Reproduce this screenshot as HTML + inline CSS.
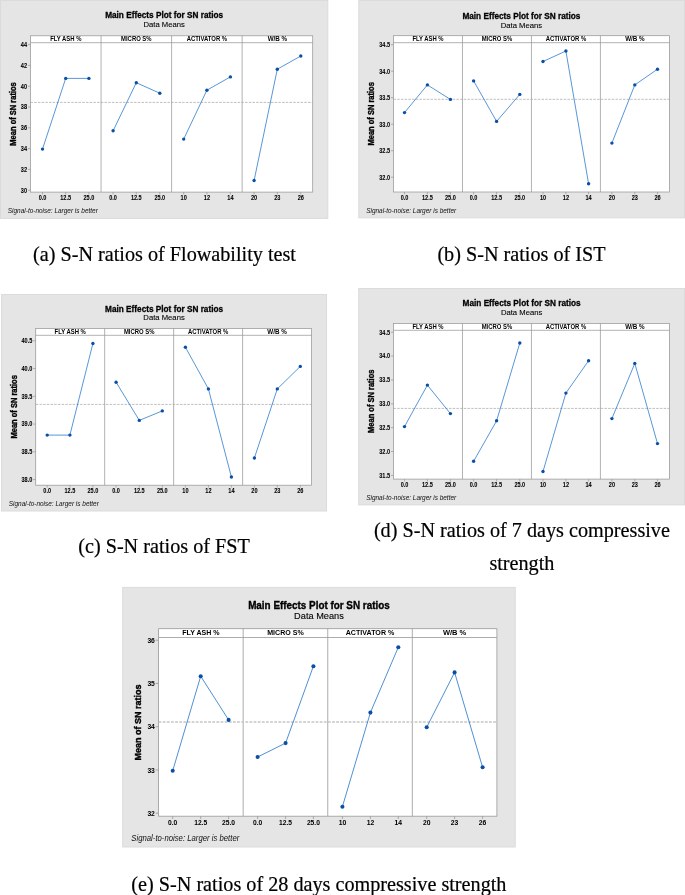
<!DOCTYPE html>
<html lang="en">
<head>
<meta charset="utf-8">
<title>Main Effects Plots for SN ratios</title>
<style>
html,body{margin:0;padding:0;background:#fff;}
body{width:685px;height:895px;overflow:hidden;font-family:'Liberation Sans', sans-serif;}
svg{display:block;}
text{white-space:pre;}
</style>
</head>
<body>
<svg width="685" height="895" viewBox="0 0 685 895">
<rect x="0" y="0" width="685" height="895" fill="#fff"/>
<g class="panel">
<rect x="0.5" y="0.5" width="327.3" height="217.9" fill="#e5e5e5" stroke="#dbdbdb" stroke-width="1"/>
<rect x="30.5" y="35.8" width="282.2" height="156.3" fill="#fff" stroke="#989898" stroke-width="0.75"/>
<line x1="30.5" y1="42.7" x2="312.7" y2="42.7" stroke="#989898" stroke-width="0.75"/>
<line x1="101.05" y1="35.8" x2="101.05" y2="192.1" stroke="#989898" stroke-width="0.75"/>
<line x1="171.6" y1="35.8" x2="171.6" y2="192.1" stroke="#989898" stroke-width="0.75"/>
<line x1="242.15" y1="35.8" x2="242.15" y2="192.1" stroke="#989898" stroke-width="0.75"/>
<text x="164.15" y="18.2" text-anchor="middle" font-family="'Liberation Sans', sans-serif" font-weight="bold" font-size="9.3" textLength="118" lengthAdjust="spacingAndGlyphs" fill="#000" stroke="#000" stroke-width="0.3">Main Effects Plot for SN ratios</text>
<text x="164.15" y="26.95" text-anchor="middle" font-family="'Liberation Sans', sans-serif" font-size="7.9" textLength="41.4" lengthAdjust="spacingAndGlyphs" fill="#000" stroke="#000" stroke-width="0.1">Data Means</text>
<text x="65.78" y="41.1" text-anchor="middle" font-family="'Liberation Sans', sans-serif" font-weight="bold" font-size="6.4" textLength="31.2" lengthAdjust="spacingAndGlyphs" fill="#000">FLY ASH %</text>
<text x="136.32" y="41.1" text-anchor="middle" font-family="'Liberation Sans', sans-serif" font-weight="bold" font-size="6.4" textLength="30.5" lengthAdjust="spacingAndGlyphs" fill="#000">MICRO S%</text>
<text x="206.88" y="41.1" text-anchor="middle" font-family="'Liberation Sans', sans-serif" font-weight="bold" font-size="6.4" textLength="40.5" lengthAdjust="spacingAndGlyphs" fill="#000">ACTIVATOR %</text>
<text x="277.42" y="41.1" text-anchor="middle" font-family="'Liberation Sans', sans-serif" font-weight="bold" font-size="6.4" textLength="19.5" lengthAdjust="spacingAndGlyphs" fill="#000">W/B %</text>
<line x1="28" y1="44.6" x2="30.5" y2="44.6" stroke="#989898" stroke-width="0.75"/>
<text x="27.1" y="46.9" text-anchor="end" font-family="'Liberation Sans', sans-serif" font-weight="bold" font-size="6.6" textLength="6.24" lengthAdjust="spacingAndGlyphs" fill="#000" stroke="#000" stroke-width="0.06">44</text>
<line x1="28" y1="65.4" x2="30.5" y2="65.4" stroke="#989898" stroke-width="0.75"/>
<text x="27.1" y="67.7" text-anchor="end" font-family="'Liberation Sans', sans-serif" font-weight="bold" font-size="6.6" textLength="6.24" lengthAdjust="spacingAndGlyphs" fill="#000" stroke="#000" stroke-width="0.06">42</text>
<line x1="28" y1="86.2" x2="30.5" y2="86.2" stroke="#989898" stroke-width="0.75"/>
<text x="27.1" y="88.5" text-anchor="end" font-family="'Liberation Sans', sans-serif" font-weight="bold" font-size="6.6" textLength="6.24" lengthAdjust="spacingAndGlyphs" fill="#000" stroke="#000" stroke-width="0.06">40</text>
<line x1="28" y1="107" x2="30.5" y2="107" stroke="#989898" stroke-width="0.75"/>
<text x="27.1" y="109.3" text-anchor="end" font-family="'Liberation Sans', sans-serif" font-weight="bold" font-size="6.6" textLength="6.24" lengthAdjust="spacingAndGlyphs" fill="#000" stroke="#000" stroke-width="0.06">38</text>
<line x1="28" y1="127.8" x2="30.5" y2="127.8" stroke="#989898" stroke-width="0.75"/>
<text x="27.1" y="130.1" text-anchor="end" font-family="'Liberation Sans', sans-serif" font-weight="bold" font-size="6.6" textLength="6.24" lengthAdjust="spacingAndGlyphs" fill="#000" stroke="#000" stroke-width="0.06">36</text>
<line x1="28" y1="148.6" x2="30.5" y2="148.6" stroke="#989898" stroke-width="0.75"/>
<text x="27.1" y="150.9" text-anchor="end" font-family="'Liberation Sans', sans-serif" font-weight="bold" font-size="6.6" textLength="6.24" lengthAdjust="spacingAndGlyphs" fill="#000" stroke="#000" stroke-width="0.06">34</text>
<line x1="28" y1="169.4" x2="30.5" y2="169.4" stroke="#989898" stroke-width="0.75"/>
<text x="27.1" y="171.7" text-anchor="end" font-family="'Liberation Sans', sans-serif" font-weight="bold" font-size="6.6" textLength="6.24" lengthAdjust="spacingAndGlyphs" fill="#000" stroke="#000" stroke-width="0.06">32</text>
<line x1="28" y1="190.2" x2="30.5" y2="190.2" stroke="#989898" stroke-width="0.75"/>
<text x="27.1" y="192.5" text-anchor="end" font-family="'Liberation Sans', sans-serif" font-weight="bold" font-size="6.6" textLength="6.24" lengthAdjust="spacingAndGlyphs" fill="#000" stroke="#000" stroke-width="0.06">30</text>
<line x1="30.5" y1="102.4" x2="312.7" y2="102.4" stroke="#a4a4a4" stroke-width="0.7" stroke-dasharray="2.5 1.2"/>
<line x1="42.5" y1="192.1" x2="42.5" y2="194.4" stroke="#989898" stroke-width="0.75"/>
<text x="42.5" y="200" text-anchor="middle" font-family="'Liberation Sans', sans-serif" font-weight="bold" font-size="6.6" textLength="7.69" lengthAdjust="spacingAndGlyphs" fill="#000" stroke="#000" stroke-width="0.06">0.0</text>
<line x1="65.7" y1="192.1" x2="65.7" y2="194.4" stroke="#989898" stroke-width="0.75"/>
<text x="65.7" y="200" text-anchor="middle" font-family="'Liberation Sans', sans-serif" font-weight="bold" font-size="6.6" textLength="10.81" lengthAdjust="spacingAndGlyphs" fill="#000" stroke="#000" stroke-width="0.06">12.5</text>
<line x1="88.9" y1="192.1" x2="88.9" y2="194.4" stroke="#989898" stroke-width="0.75"/>
<text x="88.9" y="200" text-anchor="middle" font-family="'Liberation Sans', sans-serif" font-weight="bold" font-size="6.6" textLength="10.81" lengthAdjust="spacingAndGlyphs" fill="#000" stroke="#000" stroke-width="0.06">25.0</text>
<polyline points="42.5,149.1 65.7,78.4 88.9,78.4" fill="none" stroke="#2273c9" stroke-width="0.75"/>
<circle cx="42.5" cy="149.1" r="1.7" fill="#0a4fa5"/>
<circle cx="65.7" cy="78.4" r="1.7" fill="#0a4fa5"/>
<circle cx="88.9" cy="78.4" r="1.7" fill="#0a4fa5"/>
<line x1="113.1" y1="192.1" x2="113.1" y2="194.4" stroke="#989898" stroke-width="0.75"/>
<text x="113.1" y="200" text-anchor="middle" font-family="'Liberation Sans', sans-serif" font-weight="bold" font-size="6.6" textLength="7.69" lengthAdjust="spacingAndGlyphs" fill="#000" stroke="#000" stroke-width="0.06">0.0</text>
<line x1="136.3" y1="192.1" x2="136.3" y2="194.4" stroke="#989898" stroke-width="0.75"/>
<text x="136.3" y="200" text-anchor="middle" font-family="'Liberation Sans', sans-serif" font-weight="bold" font-size="6.6" textLength="10.81" lengthAdjust="spacingAndGlyphs" fill="#000" stroke="#000" stroke-width="0.06">12.5</text>
<line x1="159.8" y1="192.1" x2="159.8" y2="194.4" stroke="#989898" stroke-width="0.75"/>
<text x="159.8" y="200" text-anchor="middle" font-family="'Liberation Sans', sans-serif" font-weight="bold" font-size="6.6" textLength="10.81" lengthAdjust="spacingAndGlyphs" fill="#000" stroke="#000" stroke-width="0.06">25.0</text>
<polyline points="113.1,130.8 136.3,82.7 159.8,93.2" fill="none" stroke="#2273c9" stroke-width="0.75"/>
<circle cx="113.1" cy="130.8" r="1.7" fill="#0a4fa5"/>
<circle cx="136.3" cy="82.7" r="1.7" fill="#0a4fa5"/>
<circle cx="159.8" cy="93.2" r="1.7" fill="#0a4fa5"/>
<line x1="183.7" y1="192.1" x2="183.7" y2="194.4" stroke="#989898" stroke-width="0.75"/>
<text x="183.7" y="200" text-anchor="middle" font-family="'Liberation Sans', sans-serif" font-weight="bold" font-size="6.6" textLength="6.24" lengthAdjust="spacingAndGlyphs" fill="#000" stroke="#000" stroke-width="0.06">10</text>
<line x1="206.9" y1="192.1" x2="206.9" y2="194.4" stroke="#989898" stroke-width="0.75"/>
<text x="206.9" y="200" text-anchor="middle" font-family="'Liberation Sans', sans-serif" font-weight="bold" font-size="6.6" textLength="6.24" lengthAdjust="spacingAndGlyphs" fill="#000" stroke="#000" stroke-width="0.06">12</text>
<line x1="230.4" y1="192.1" x2="230.4" y2="194.4" stroke="#989898" stroke-width="0.75"/>
<text x="230.4" y="200" text-anchor="middle" font-family="'Liberation Sans', sans-serif" font-weight="bold" font-size="6.6" textLength="6.24" lengthAdjust="spacingAndGlyphs" fill="#000" stroke="#000" stroke-width="0.06">14</text>
<polyline points="183.7,139.1 206.9,90.2 230.4,76.9" fill="none" stroke="#2273c9" stroke-width="0.75"/>
<circle cx="183.7" cy="139.1" r="1.7" fill="#0a4fa5"/>
<circle cx="206.9" cy="90.2" r="1.7" fill="#0a4fa5"/>
<circle cx="230.4" cy="76.9" r="1.7" fill="#0a4fa5"/>
<line x1="254.1" y1="192.1" x2="254.1" y2="194.4" stroke="#989898" stroke-width="0.75"/>
<text x="254.1" y="200" text-anchor="middle" font-family="'Liberation Sans', sans-serif" font-weight="bold" font-size="6.6" textLength="6.24" lengthAdjust="spacingAndGlyphs" fill="#000" stroke="#000" stroke-width="0.06">20</text>
<line x1="277.3" y1="192.1" x2="277.3" y2="194.4" stroke="#989898" stroke-width="0.75"/>
<text x="277.3" y="200" text-anchor="middle" font-family="'Liberation Sans', sans-serif" font-weight="bold" font-size="6.6" textLength="6.24" lengthAdjust="spacingAndGlyphs" fill="#000" stroke="#000" stroke-width="0.06">23</text>
<line x1="300.8" y1="192.1" x2="300.8" y2="194.4" stroke="#989898" stroke-width="0.75"/>
<text x="300.8" y="200" text-anchor="middle" font-family="'Liberation Sans', sans-serif" font-weight="bold" font-size="6.6" textLength="6.24" lengthAdjust="spacingAndGlyphs" fill="#000" stroke="#000" stroke-width="0.06">26</text>
<polyline points="254.1,180.5 277.3,69.2 300.8,56" fill="none" stroke="#2273c9" stroke-width="0.75"/>
<circle cx="254.1" cy="180.5" r="1.7" fill="#0a4fa5"/>
<circle cx="277.3" cy="69.2" r="1.7" fill="#0a4fa5"/>
<circle cx="300.8" cy="56" r="1.7" fill="#0a4fa5"/>
<text transform="translate(16.1,113.95) rotate(-90)" text-anchor="middle" font-family="'Liberation Sans', sans-serif" font-weight="bold" font-size="8.2" textLength="63.4" lengthAdjust="spacingAndGlyphs" fill="#000" stroke="#000" stroke-width="0.35">Mean of SN ratios</text>
<text x="7.8" y="213.3" font-family="'Liberation Sans', sans-serif" font-style="italic" font-size="7" textLength="90" lengthAdjust="spacingAndGlyphs" fill="#111">Signal-to-noise: Larger is better</text>
</g>
<g class="panel">
<rect x="358.8" y="0.5" width="325.7" height="217.3" fill="#e5e5e5" stroke="#dbdbdb" stroke-width="1"/>
<rect x="393.5" y="35.7" width="275.9" height="156.3" fill="#fff" stroke="#989898" stroke-width="0.75"/>
<line x1="393.5" y1="42.7" x2="669.4" y2="42.7" stroke="#989898" stroke-width="0.75"/>
<line x1="462.48" y1="35.7" x2="462.48" y2="192" stroke="#989898" stroke-width="0.75"/>
<line x1="531.45" y1="35.7" x2="531.45" y2="192" stroke="#989898" stroke-width="0.75"/>
<line x1="600.42" y1="35.7" x2="600.42" y2="192" stroke="#989898" stroke-width="0.75"/>
<text x="521.4" y="18.8" text-anchor="middle" font-family="'Liberation Sans', sans-serif" font-weight="bold" font-size="9.3" textLength="118" lengthAdjust="spacingAndGlyphs" fill="#000" stroke="#000" stroke-width="0.3">Main Effects Plot for SN ratios</text>
<text x="521.4" y="27.55" text-anchor="middle" font-family="'Liberation Sans', sans-serif" font-size="7.9" textLength="41.4" lengthAdjust="spacingAndGlyphs" fill="#000" stroke="#000" stroke-width="0.1">Data Means</text>
<text x="427.99" y="41" text-anchor="middle" font-family="'Liberation Sans', sans-serif" font-weight="bold" font-size="6.4" textLength="31.2" lengthAdjust="spacingAndGlyphs" fill="#000">FLY ASH %</text>
<text x="496.96" y="41" text-anchor="middle" font-family="'Liberation Sans', sans-serif" font-weight="bold" font-size="6.4" textLength="30.5" lengthAdjust="spacingAndGlyphs" fill="#000">MICRO S%</text>
<text x="565.94" y="41" text-anchor="middle" font-family="'Liberation Sans', sans-serif" font-weight="bold" font-size="6.4" textLength="40.5" lengthAdjust="spacingAndGlyphs" fill="#000">ACTIVATOR %</text>
<text x="634.91" y="41" text-anchor="middle" font-family="'Liberation Sans', sans-serif" font-weight="bold" font-size="6.4" textLength="19.5" lengthAdjust="spacingAndGlyphs" fill="#000">W/B %</text>
<line x1="391" y1="44.7" x2="393.5" y2="44.7" stroke="#989898" stroke-width="0.75"/>
<text x="390.1" y="47" text-anchor="end" font-family="'Liberation Sans', sans-serif" font-weight="bold" font-size="6.6" textLength="10.81" lengthAdjust="spacingAndGlyphs" fill="#000" stroke="#000" stroke-width="0.06">34.5</text>
<line x1="391" y1="71.2" x2="393.5" y2="71.2" stroke="#989898" stroke-width="0.75"/>
<text x="390.1" y="73.5" text-anchor="end" font-family="'Liberation Sans', sans-serif" font-weight="bold" font-size="6.6" textLength="10.81" lengthAdjust="spacingAndGlyphs" fill="#000" stroke="#000" stroke-width="0.06">34.0</text>
<line x1="391" y1="97.7" x2="393.5" y2="97.7" stroke="#989898" stroke-width="0.75"/>
<text x="390.1" y="100" text-anchor="end" font-family="'Liberation Sans', sans-serif" font-weight="bold" font-size="6.6" textLength="10.81" lengthAdjust="spacingAndGlyphs" fill="#000" stroke="#000" stroke-width="0.06">33.5</text>
<line x1="391" y1="124.2" x2="393.5" y2="124.2" stroke="#989898" stroke-width="0.75"/>
<text x="390.1" y="126.5" text-anchor="end" font-family="'Liberation Sans', sans-serif" font-weight="bold" font-size="6.6" textLength="10.81" lengthAdjust="spacingAndGlyphs" fill="#000" stroke="#000" stroke-width="0.06">33.0</text>
<line x1="391" y1="150.7" x2="393.5" y2="150.7" stroke="#989898" stroke-width="0.75"/>
<text x="390.1" y="153" text-anchor="end" font-family="'Liberation Sans', sans-serif" font-weight="bold" font-size="6.6" textLength="10.81" lengthAdjust="spacingAndGlyphs" fill="#000" stroke="#000" stroke-width="0.06">32.5</text>
<line x1="391" y1="177.2" x2="393.5" y2="177.2" stroke="#989898" stroke-width="0.75"/>
<text x="390.1" y="179.5" text-anchor="end" font-family="'Liberation Sans', sans-serif" font-weight="bold" font-size="6.6" textLength="10.81" lengthAdjust="spacingAndGlyphs" fill="#000" stroke="#000" stroke-width="0.06">32.0</text>
<line x1="393.5" y1="99.3" x2="669.4" y2="99.3" stroke="#a4a4a4" stroke-width="0.7" stroke-dasharray="2.5 1.2"/>
<line x1="404.5" y1="192" x2="404.5" y2="194.3" stroke="#989898" stroke-width="0.75"/>
<text x="404.5" y="199.9" text-anchor="middle" font-family="'Liberation Sans', sans-serif" font-weight="bold" font-size="6.6" textLength="7.69" lengthAdjust="spacingAndGlyphs" fill="#000" stroke="#000" stroke-width="0.06">0.0</text>
<line x1="427.4" y1="192" x2="427.4" y2="194.3" stroke="#989898" stroke-width="0.75"/>
<text x="427.4" y="199.9" text-anchor="middle" font-family="'Liberation Sans', sans-serif" font-weight="bold" font-size="6.6" textLength="10.81" lengthAdjust="spacingAndGlyphs" fill="#000" stroke="#000" stroke-width="0.06">12.5</text>
<line x1="450.4" y1="192" x2="450.4" y2="194.3" stroke="#989898" stroke-width="0.75"/>
<text x="450.4" y="199.9" text-anchor="middle" font-family="'Liberation Sans', sans-serif" font-weight="bold" font-size="6.6" textLength="10.81" lengthAdjust="spacingAndGlyphs" fill="#000" stroke="#000" stroke-width="0.06">25.0</text>
<polyline points="404.5,112.6 427.4,84.9 450.4,99.4" fill="none" stroke="#2273c9" stroke-width="0.75"/>
<circle cx="404.5" cy="112.6" r="1.7" fill="#0a4fa5"/>
<circle cx="427.4" cy="84.9" r="1.7" fill="#0a4fa5"/>
<circle cx="450.4" cy="99.4" r="1.7" fill="#0a4fa5"/>
<line x1="473.6" y1="192" x2="473.6" y2="194.3" stroke="#989898" stroke-width="0.75"/>
<text x="473.6" y="199.9" text-anchor="middle" font-family="'Liberation Sans', sans-serif" font-weight="bold" font-size="6.6" textLength="7.69" lengthAdjust="spacingAndGlyphs" fill="#000" stroke="#000" stroke-width="0.06">0.0</text>
<line x1="496.6" y1="192" x2="496.6" y2="194.3" stroke="#989898" stroke-width="0.75"/>
<text x="496.6" y="199.9" text-anchor="middle" font-family="'Liberation Sans', sans-serif" font-weight="bold" font-size="6.6" textLength="10.81" lengthAdjust="spacingAndGlyphs" fill="#000" stroke="#000" stroke-width="0.06">12.5</text>
<line x1="519.8" y1="192" x2="519.8" y2="194.3" stroke="#989898" stroke-width="0.75"/>
<text x="519.8" y="199.9" text-anchor="middle" font-family="'Liberation Sans', sans-serif" font-weight="bold" font-size="6.6" textLength="10.81" lengthAdjust="spacingAndGlyphs" fill="#000" stroke="#000" stroke-width="0.06">25.0</text>
<polyline points="473.6,80.9 496.6,121.4 519.8,94.4" fill="none" stroke="#2273c9" stroke-width="0.75"/>
<circle cx="473.6" cy="80.9" r="1.7" fill="#0a4fa5"/>
<circle cx="496.6" cy="121.4" r="1.7" fill="#0a4fa5"/>
<circle cx="519.8" cy="94.4" r="1.7" fill="#0a4fa5"/>
<line x1="543" y1="192" x2="543" y2="194.3" stroke="#989898" stroke-width="0.75"/>
<text x="543" y="199.9" text-anchor="middle" font-family="'Liberation Sans', sans-serif" font-weight="bold" font-size="6.6" textLength="6.24" lengthAdjust="spacingAndGlyphs" fill="#000" stroke="#000" stroke-width="0.06">10</text>
<line x1="565.9" y1="192" x2="565.9" y2="194.3" stroke="#989898" stroke-width="0.75"/>
<text x="565.9" y="199.9" text-anchor="middle" font-family="'Liberation Sans', sans-serif" font-weight="bold" font-size="6.6" textLength="6.24" lengthAdjust="spacingAndGlyphs" fill="#000" stroke="#000" stroke-width="0.06">12</text>
<line x1="588.6" y1="192" x2="588.6" y2="194.3" stroke="#989898" stroke-width="0.75"/>
<text x="588.6" y="199.9" text-anchor="middle" font-family="'Liberation Sans', sans-serif" font-weight="bold" font-size="6.6" textLength="6.24" lengthAdjust="spacingAndGlyphs" fill="#000" stroke="#000" stroke-width="0.06">14</text>
<polyline points="543,61.5 565.9,51 588.6,183.8" fill="none" stroke="#2273c9" stroke-width="0.75"/>
<circle cx="543" cy="61.5" r="1.7" fill="#0a4fa5"/>
<circle cx="565.9" cy="51" r="1.7" fill="#0a4fa5"/>
<circle cx="588.6" cy="183.8" r="1.7" fill="#0a4fa5"/>
<line x1="611.9" y1="192" x2="611.9" y2="194.3" stroke="#989898" stroke-width="0.75"/>
<text x="611.9" y="199.9" text-anchor="middle" font-family="'Liberation Sans', sans-serif" font-weight="bold" font-size="6.6" textLength="6.24" lengthAdjust="spacingAndGlyphs" fill="#000" stroke="#000" stroke-width="0.06">20</text>
<line x1="634.8" y1="192" x2="634.8" y2="194.3" stroke="#989898" stroke-width="0.75"/>
<text x="634.8" y="199.9" text-anchor="middle" font-family="'Liberation Sans', sans-serif" font-weight="bold" font-size="6.6" textLength="6.24" lengthAdjust="spacingAndGlyphs" fill="#000" stroke="#000" stroke-width="0.06">23</text>
<line x1="657.5" y1="192" x2="657.5" y2="194.3" stroke="#989898" stroke-width="0.75"/>
<text x="657.5" y="199.9" text-anchor="middle" font-family="'Liberation Sans', sans-serif" font-weight="bold" font-size="6.6" textLength="6.24" lengthAdjust="spacingAndGlyphs" fill="#000" stroke="#000" stroke-width="0.06">26</text>
<polyline points="611.9,143.1 634.8,84.9 657.5,69.2" fill="none" stroke="#2273c9" stroke-width="0.75"/>
<circle cx="611.9" cy="143.1" r="1.7" fill="#0a4fa5"/>
<circle cx="634.8" cy="84.9" r="1.7" fill="#0a4fa5"/>
<circle cx="657.5" cy="69.2" r="1.7" fill="#0a4fa5"/>
<text transform="translate(374.4,113.85) rotate(-90)" text-anchor="middle" font-family="'Liberation Sans', sans-serif" font-weight="bold" font-size="8.2" textLength="63.4" lengthAdjust="spacingAndGlyphs" fill="#000" stroke="#000" stroke-width="0.35">Mean of SN ratios</text>
<text x="366.2" y="213.2" font-family="'Liberation Sans', sans-serif" font-style="italic" font-size="7" textLength="90" lengthAdjust="spacingAndGlyphs" fill="#111">Signal-to-noise: Larger is better</text>
</g>
<g class="panel">
<rect x="1.6" y="294.5" width="324.9" height="216.5" fill="#e5e5e5" stroke="#dbdbdb" stroke-width="1"/>
<rect x="35.7" y="328.5" width="275.9" height="156.7" fill="#fff" stroke="#989898" stroke-width="0.75"/>
<line x1="35.7" y1="335.3" x2="311.6" y2="335.3" stroke="#989898" stroke-width="0.75"/>
<line x1="104.68" y1="328.5" x2="104.68" y2="485.2" stroke="#989898" stroke-width="0.75"/>
<line x1="173.65" y1="328.5" x2="173.65" y2="485.2" stroke="#989898" stroke-width="0.75"/>
<line x1="242.62" y1="328.5" x2="242.62" y2="485.2" stroke="#989898" stroke-width="0.75"/>
<text x="164.05" y="311.7" text-anchor="middle" font-family="'Liberation Sans', sans-serif" font-weight="bold" font-size="9.3" textLength="118" lengthAdjust="spacingAndGlyphs" fill="#000" stroke="#000" stroke-width="0.3">Main Effects Plot for SN ratios</text>
<text x="164.05" y="320.45" text-anchor="middle" font-family="'Liberation Sans', sans-serif" font-size="7.9" textLength="41.4" lengthAdjust="spacingAndGlyphs" fill="#000" stroke="#000" stroke-width="0.1">Data Means</text>
<text x="70.19" y="333.8" text-anchor="middle" font-family="'Liberation Sans', sans-serif" font-weight="bold" font-size="6.4" textLength="31.2" lengthAdjust="spacingAndGlyphs" fill="#000">FLY ASH %</text>
<text x="139.16" y="333.8" text-anchor="middle" font-family="'Liberation Sans', sans-serif" font-weight="bold" font-size="6.4" textLength="30.5" lengthAdjust="spacingAndGlyphs" fill="#000">MICRO S%</text>
<text x="208.14" y="333.8" text-anchor="middle" font-family="'Liberation Sans', sans-serif" font-weight="bold" font-size="6.4" textLength="40.5" lengthAdjust="spacingAndGlyphs" fill="#000">ACTIVATOR %</text>
<text x="277.11" y="333.8" text-anchor="middle" font-family="'Liberation Sans', sans-serif" font-weight="bold" font-size="6.4" textLength="19.5" lengthAdjust="spacingAndGlyphs" fill="#000">W/B %</text>
<line x1="33.2" y1="340.8" x2="35.7" y2="340.8" stroke="#989898" stroke-width="0.75"/>
<text x="32.3" y="343.1" text-anchor="end" font-family="'Liberation Sans', sans-serif" font-weight="bold" font-size="6.6" textLength="10.81" lengthAdjust="spacingAndGlyphs" fill="#000" stroke="#000" stroke-width="0.06">40.5</text>
<line x1="33.2" y1="368.56" x2="35.7" y2="368.56" stroke="#989898" stroke-width="0.75"/>
<text x="32.3" y="370.86" text-anchor="end" font-family="'Liberation Sans', sans-serif" font-weight="bold" font-size="6.6" textLength="10.81" lengthAdjust="spacingAndGlyphs" fill="#000" stroke="#000" stroke-width="0.06">40.0</text>
<line x1="33.2" y1="396.32" x2="35.7" y2="396.32" stroke="#989898" stroke-width="0.75"/>
<text x="32.3" y="398.62" text-anchor="end" font-family="'Liberation Sans', sans-serif" font-weight="bold" font-size="6.6" textLength="10.81" lengthAdjust="spacingAndGlyphs" fill="#000" stroke="#000" stroke-width="0.06">39.5</text>
<line x1="33.2" y1="424.08" x2="35.7" y2="424.08" stroke="#989898" stroke-width="0.75"/>
<text x="32.3" y="426.38" text-anchor="end" font-family="'Liberation Sans', sans-serif" font-weight="bold" font-size="6.6" textLength="10.81" lengthAdjust="spacingAndGlyphs" fill="#000" stroke="#000" stroke-width="0.06">39.0</text>
<line x1="33.2" y1="451.84" x2="35.7" y2="451.84" stroke="#989898" stroke-width="0.75"/>
<text x="32.3" y="454.14" text-anchor="end" font-family="'Liberation Sans', sans-serif" font-weight="bold" font-size="6.6" textLength="10.81" lengthAdjust="spacingAndGlyphs" fill="#000" stroke="#000" stroke-width="0.06">38.5</text>
<line x1="33.2" y1="479.6" x2="35.7" y2="479.6" stroke="#989898" stroke-width="0.75"/>
<text x="32.3" y="481.9" text-anchor="end" font-family="'Liberation Sans', sans-serif" font-weight="bold" font-size="6.6" textLength="10.81" lengthAdjust="spacingAndGlyphs" fill="#000" stroke="#000" stroke-width="0.06">38.0</text>
<line x1="35.7" y1="404.4" x2="311.6" y2="404.4" stroke="#a4a4a4" stroke-width="0.7" stroke-dasharray="2.5 1.2"/>
<line x1="47.2" y1="485.2" x2="47.2" y2="487.5" stroke="#989898" stroke-width="0.75"/>
<text x="47.2" y="493.1" text-anchor="middle" font-family="'Liberation Sans', sans-serif" font-weight="bold" font-size="6.6" textLength="7.69" lengthAdjust="spacingAndGlyphs" fill="#000" stroke="#000" stroke-width="0.06">0.0</text>
<line x1="69.9" y1="485.2" x2="69.9" y2="487.5" stroke="#989898" stroke-width="0.75"/>
<text x="69.9" y="493.1" text-anchor="middle" font-family="'Liberation Sans', sans-serif" font-weight="bold" font-size="6.6" textLength="10.81" lengthAdjust="spacingAndGlyphs" fill="#000" stroke="#000" stroke-width="0.06">12.5</text>
<line x1="92.9" y1="485.2" x2="92.9" y2="487.5" stroke="#989898" stroke-width="0.75"/>
<text x="92.9" y="493.1" text-anchor="middle" font-family="'Liberation Sans', sans-serif" font-weight="bold" font-size="6.6" textLength="10.81" lengthAdjust="spacingAndGlyphs" fill="#000" stroke="#000" stroke-width="0.06">25.0</text>
<polyline points="47.2,435.1 69.9,435.1 92.9,343.5" fill="none" stroke="#2273c9" stroke-width="0.75"/>
<circle cx="47.2" cy="435.1" r="1.7" fill="#0a4fa5"/>
<circle cx="69.9" cy="435.1" r="1.7" fill="#0a4fa5"/>
<circle cx="92.9" cy="343.5" r="1.7" fill="#0a4fa5"/>
<line x1="116.1" y1="485.2" x2="116.1" y2="487.5" stroke="#989898" stroke-width="0.75"/>
<text x="116.1" y="493.1" text-anchor="middle" font-family="'Liberation Sans', sans-serif" font-weight="bold" font-size="6.6" textLength="7.69" lengthAdjust="spacingAndGlyphs" fill="#000" stroke="#000" stroke-width="0.06">0.0</text>
<line x1="139.3" y1="485.2" x2="139.3" y2="487.5" stroke="#989898" stroke-width="0.75"/>
<text x="139.3" y="493.1" text-anchor="middle" font-family="'Liberation Sans', sans-serif" font-weight="bold" font-size="6.6" textLength="10.81" lengthAdjust="spacingAndGlyphs" fill="#000" stroke="#000" stroke-width="0.06">12.5</text>
<line x1="162.3" y1="485.2" x2="162.3" y2="487.5" stroke="#989898" stroke-width="0.75"/>
<text x="162.3" y="493.1" text-anchor="middle" font-family="'Liberation Sans', sans-serif" font-weight="bold" font-size="6.6" textLength="10.81" lengthAdjust="spacingAndGlyphs" fill="#000" stroke="#000" stroke-width="0.06">25.0</text>
<polyline points="116.1,382.2 139.3,420.4 162.3,410.9" fill="none" stroke="#2273c9" stroke-width="0.75"/>
<circle cx="116.1" cy="382.2" r="1.7" fill="#0a4fa5"/>
<circle cx="139.3" cy="420.4" r="1.7" fill="#0a4fa5"/>
<circle cx="162.3" cy="410.9" r="1.7" fill="#0a4fa5"/>
<line x1="185.4" y1="485.2" x2="185.4" y2="487.5" stroke="#989898" stroke-width="0.75"/>
<text x="185.4" y="493.1" text-anchor="middle" font-family="'Liberation Sans', sans-serif" font-weight="bold" font-size="6.6" textLength="6.24" lengthAdjust="spacingAndGlyphs" fill="#000" stroke="#000" stroke-width="0.06">10</text>
<line x1="208.4" y1="485.2" x2="208.4" y2="487.5" stroke="#989898" stroke-width="0.75"/>
<text x="208.4" y="493.1" text-anchor="middle" font-family="'Liberation Sans', sans-serif" font-weight="bold" font-size="6.6" textLength="6.24" lengthAdjust="spacingAndGlyphs" fill="#000" stroke="#000" stroke-width="0.06">12</text>
<line x1="231.4" y1="485.2" x2="231.4" y2="487.5" stroke="#989898" stroke-width="0.75"/>
<text x="231.4" y="493.1" text-anchor="middle" font-family="'Liberation Sans', sans-serif" font-weight="bold" font-size="6.6" textLength="6.24" lengthAdjust="spacingAndGlyphs" fill="#000" stroke="#000" stroke-width="0.06">14</text>
<polyline points="185.4,347.2 208.4,388.9 231.4,477" fill="none" stroke="#2273c9" stroke-width="0.75"/>
<circle cx="185.4" cy="347.2" r="1.7" fill="#0a4fa5"/>
<circle cx="208.4" cy="388.9" r="1.7" fill="#0a4fa5"/>
<circle cx="231.4" cy="477" r="1.7" fill="#0a4fa5"/>
<line x1="254.4" y1="485.2" x2="254.4" y2="487.5" stroke="#989898" stroke-width="0.75"/>
<text x="254.4" y="493.1" text-anchor="middle" font-family="'Liberation Sans', sans-serif" font-weight="bold" font-size="6.6" textLength="6.24" lengthAdjust="spacingAndGlyphs" fill="#000" stroke="#000" stroke-width="0.06">20</text>
<line x1="277.3" y1="485.2" x2="277.3" y2="487.5" stroke="#989898" stroke-width="0.75"/>
<text x="277.3" y="493.1" text-anchor="middle" font-family="'Liberation Sans', sans-serif" font-weight="bold" font-size="6.6" textLength="6.24" lengthAdjust="spacingAndGlyphs" fill="#000" stroke="#000" stroke-width="0.06">23</text>
<line x1="300.3" y1="485.2" x2="300.3" y2="487.5" stroke="#989898" stroke-width="0.75"/>
<text x="300.3" y="493.1" text-anchor="middle" font-family="'Liberation Sans', sans-serif" font-weight="bold" font-size="6.6" textLength="6.24" lengthAdjust="spacingAndGlyphs" fill="#000" stroke="#000" stroke-width="0.06">26</text>
<polyline points="254.4,458 277.3,388.9 300.3,366.4" fill="none" stroke="#2273c9" stroke-width="0.75"/>
<circle cx="254.4" cy="458" r="1.7" fill="#0a4fa5"/>
<circle cx="277.3" cy="388.9" r="1.7" fill="#0a4fa5"/>
<circle cx="300.3" cy="366.4" r="1.7" fill="#0a4fa5"/>
<text transform="translate(17.4,406.85) rotate(-90)" text-anchor="middle" font-family="'Liberation Sans', sans-serif" font-weight="bold" font-size="8.2" textLength="63.4" lengthAdjust="spacingAndGlyphs" fill="#000" stroke="#000" stroke-width="0.35">Mean of SN ratios</text>
<text x="8.8" y="506.4" font-family="'Liberation Sans', sans-serif" font-style="italic" font-size="7" textLength="90" lengthAdjust="spacingAndGlyphs" fill="#111">Signal-to-noise: Larger is better</text>
</g>
<g class="panel">
<rect x="358.7" y="288.5" width="325.8" height="216.4" fill="#e5e5e5" stroke="#dbdbdb" stroke-width="1"/>
<rect x="393.5" y="323.4" width="275.9" height="155.7" fill="#fff" stroke="#989898" stroke-width="0.75"/>
<line x1="393.5" y1="330.3" x2="669.4" y2="330.3" stroke="#989898" stroke-width="0.75"/>
<line x1="462.48" y1="323.4" x2="462.48" y2="479.1" stroke="#989898" stroke-width="0.75"/>
<line x1="531.45" y1="323.4" x2="531.45" y2="479.1" stroke="#989898" stroke-width="0.75"/>
<line x1="600.42" y1="323.4" x2="600.42" y2="479.1" stroke="#989898" stroke-width="0.75"/>
<text x="521.6" y="305.9" text-anchor="middle" font-family="'Liberation Sans', sans-serif" font-weight="bold" font-size="9.3" textLength="118" lengthAdjust="spacingAndGlyphs" fill="#000" stroke="#000" stroke-width="0.3">Main Effects Plot for SN ratios</text>
<text x="521.6" y="314.65" text-anchor="middle" font-family="'Liberation Sans', sans-serif" font-size="7.9" textLength="41.4" lengthAdjust="spacingAndGlyphs" fill="#000" stroke="#000" stroke-width="0.1">Data Means</text>
<text x="427.99" y="328.7" text-anchor="middle" font-family="'Liberation Sans', sans-serif" font-weight="bold" font-size="6.4" textLength="31.2" lengthAdjust="spacingAndGlyphs" fill="#000">FLY ASH %</text>
<text x="496.96" y="328.7" text-anchor="middle" font-family="'Liberation Sans', sans-serif" font-weight="bold" font-size="6.4" textLength="30.5" lengthAdjust="spacingAndGlyphs" fill="#000">MICRO S%</text>
<text x="565.94" y="328.7" text-anchor="middle" font-family="'Liberation Sans', sans-serif" font-weight="bold" font-size="6.4" textLength="40.5" lengthAdjust="spacingAndGlyphs" fill="#000">ACTIVATOR %</text>
<text x="634.91" y="328.7" text-anchor="middle" font-family="'Liberation Sans', sans-serif" font-weight="bold" font-size="6.4" textLength="19.5" lengthAdjust="spacingAndGlyphs" fill="#000">W/B %</text>
<line x1="391" y1="332.2" x2="393.5" y2="332.2" stroke="#989898" stroke-width="0.75"/>
<text x="390.1" y="334.5" text-anchor="end" font-family="'Liberation Sans', sans-serif" font-weight="bold" font-size="6.6" textLength="10.81" lengthAdjust="spacingAndGlyphs" fill="#000" stroke="#000" stroke-width="0.06">34.5</text>
<line x1="391" y1="356.07" x2="393.5" y2="356.07" stroke="#989898" stroke-width="0.75"/>
<text x="390.1" y="358.37" text-anchor="end" font-family="'Liberation Sans', sans-serif" font-weight="bold" font-size="6.6" textLength="10.81" lengthAdjust="spacingAndGlyphs" fill="#000" stroke="#000" stroke-width="0.06">34.0</text>
<line x1="391" y1="379.93" x2="393.5" y2="379.93" stroke="#989898" stroke-width="0.75"/>
<text x="390.1" y="382.23" text-anchor="end" font-family="'Liberation Sans', sans-serif" font-weight="bold" font-size="6.6" textLength="10.81" lengthAdjust="spacingAndGlyphs" fill="#000" stroke="#000" stroke-width="0.06">33.5</text>
<line x1="391" y1="403.8" x2="393.5" y2="403.8" stroke="#989898" stroke-width="0.75"/>
<text x="390.1" y="406.1" text-anchor="end" font-family="'Liberation Sans', sans-serif" font-weight="bold" font-size="6.6" textLength="10.81" lengthAdjust="spacingAndGlyphs" fill="#000" stroke="#000" stroke-width="0.06">33.0</text>
<line x1="391" y1="427.67" x2="393.5" y2="427.67" stroke="#989898" stroke-width="0.75"/>
<text x="390.1" y="429.97" text-anchor="end" font-family="'Liberation Sans', sans-serif" font-weight="bold" font-size="6.6" textLength="10.81" lengthAdjust="spacingAndGlyphs" fill="#000" stroke="#000" stroke-width="0.06">32.5</text>
<line x1="391" y1="451.53" x2="393.5" y2="451.53" stroke="#989898" stroke-width="0.75"/>
<text x="390.1" y="453.83" text-anchor="end" font-family="'Liberation Sans', sans-serif" font-weight="bold" font-size="6.6" textLength="10.81" lengthAdjust="spacingAndGlyphs" fill="#000" stroke="#000" stroke-width="0.06">32.0</text>
<line x1="391" y1="475.4" x2="393.5" y2="475.4" stroke="#989898" stroke-width="0.75"/>
<text x="390.1" y="477.7" text-anchor="end" font-family="'Liberation Sans', sans-serif" font-weight="bold" font-size="6.6" textLength="10.81" lengthAdjust="spacingAndGlyphs" fill="#000" stroke="#000" stroke-width="0.06">31.5</text>
<line x1="393.5" y1="408.4" x2="669.4" y2="408.4" stroke="#a4a4a4" stroke-width="0.7" stroke-dasharray="2.5 1.2"/>
<line x1="404.5" y1="479.1" x2="404.5" y2="481.4" stroke="#989898" stroke-width="0.75"/>
<text x="404.5" y="487" text-anchor="middle" font-family="'Liberation Sans', sans-serif" font-weight="bold" font-size="6.6" textLength="7.69" lengthAdjust="spacingAndGlyphs" fill="#000" stroke="#000" stroke-width="0.06">0.0</text>
<line x1="427.4" y1="479.1" x2="427.4" y2="481.4" stroke="#989898" stroke-width="0.75"/>
<text x="427.4" y="487" text-anchor="middle" font-family="'Liberation Sans', sans-serif" font-weight="bold" font-size="6.6" textLength="10.81" lengthAdjust="spacingAndGlyphs" fill="#000" stroke="#000" stroke-width="0.06">12.5</text>
<line x1="450.4" y1="479.1" x2="450.4" y2="481.4" stroke="#989898" stroke-width="0.75"/>
<text x="450.4" y="487" text-anchor="middle" font-family="'Liberation Sans', sans-serif" font-weight="bold" font-size="6.6" textLength="10.81" lengthAdjust="spacingAndGlyphs" fill="#000" stroke="#000" stroke-width="0.06">25.0</text>
<polyline points="404.5,426.6 427.4,385.1 450.4,413.6" fill="none" stroke="#2273c9" stroke-width="0.75"/>
<circle cx="404.5" cy="426.6" r="1.7" fill="#0a4fa5"/>
<circle cx="427.4" cy="385.1" r="1.7" fill="#0a4fa5"/>
<circle cx="450.4" cy="413.6" r="1.7" fill="#0a4fa5"/>
<line x1="473.6" y1="479.1" x2="473.6" y2="481.4" stroke="#989898" stroke-width="0.75"/>
<text x="473.6" y="487" text-anchor="middle" font-family="'Liberation Sans', sans-serif" font-weight="bold" font-size="6.6" textLength="7.69" lengthAdjust="spacingAndGlyphs" fill="#000" stroke="#000" stroke-width="0.06">0.0</text>
<line x1="496.6" y1="479.1" x2="496.6" y2="481.4" stroke="#989898" stroke-width="0.75"/>
<text x="496.6" y="487" text-anchor="middle" font-family="'Liberation Sans', sans-serif" font-weight="bold" font-size="6.6" textLength="10.81" lengthAdjust="spacingAndGlyphs" fill="#000" stroke="#000" stroke-width="0.06">12.5</text>
<line x1="519.8" y1="479.1" x2="519.8" y2="481.4" stroke="#989898" stroke-width="0.75"/>
<text x="519.8" y="487" text-anchor="middle" font-family="'Liberation Sans', sans-serif" font-weight="bold" font-size="6.6" textLength="10.81" lengthAdjust="spacingAndGlyphs" fill="#000" stroke="#000" stroke-width="0.06">25.0</text>
<polyline points="473.6,461.3 496.6,420.8 519.8,343" fill="none" stroke="#2273c9" stroke-width="0.75"/>
<circle cx="473.6" cy="461.3" r="1.7" fill="#0a4fa5"/>
<circle cx="496.6" cy="420.8" r="1.7" fill="#0a4fa5"/>
<circle cx="519.8" cy="343" r="1.7" fill="#0a4fa5"/>
<line x1="543" y1="479.1" x2="543" y2="481.4" stroke="#989898" stroke-width="0.75"/>
<text x="543" y="487" text-anchor="middle" font-family="'Liberation Sans', sans-serif" font-weight="bold" font-size="6.6" textLength="6.24" lengthAdjust="spacingAndGlyphs" fill="#000" stroke="#000" stroke-width="0.06">10</text>
<line x1="565.9" y1="479.1" x2="565.9" y2="481.4" stroke="#989898" stroke-width="0.75"/>
<text x="565.9" y="487" text-anchor="middle" font-family="'Liberation Sans', sans-serif" font-weight="bold" font-size="6.6" textLength="6.24" lengthAdjust="spacingAndGlyphs" fill="#000" stroke="#000" stroke-width="0.06">12</text>
<line x1="588.6" y1="479.1" x2="588.6" y2="481.4" stroke="#989898" stroke-width="0.75"/>
<text x="588.6" y="487" text-anchor="middle" font-family="'Liberation Sans', sans-serif" font-weight="bold" font-size="6.6" textLength="6.24" lengthAdjust="spacingAndGlyphs" fill="#000" stroke="#000" stroke-width="0.06">14</text>
<polyline points="543,471.5 565.9,393.1 588.6,360.7" fill="none" stroke="#2273c9" stroke-width="0.75"/>
<circle cx="543" cy="471.5" r="1.7" fill="#0a4fa5"/>
<circle cx="565.9" cy="393.1" r="1.7" fill="#0a4fa5"/>
<circle cx="588.6" cy="360.7" r="1.7" fill="#0a4fa5"/>
<line x1="611.9" y1="479.1" x2="611.9" y2="481.4" stroke="#989898" stroke-width="0.75"/>
<text x="611.9" y="487" text-anchor="middle" font-family="'Liberation Sans', sans-serif" font-weight="bold" font-size="6.6" textLength="6.24" lengthAdjust="spacingAndGlyphs" fill="#000" stroke="#000" stroke-width="0.06">20</text>
<line x1="634.8" y1="479.1" x2="634.8" y2="481.4" stroke="#989898" stroke-width="0.75"/>
<text x="634.8" y="487" text-anchor="middle" font-family="'Liberation Sans', sans-serif" font-weight="bold" font-size="6.6" textLength="6.24" lengthAdjust="spacingAndGlyphs" fill="#000" stroke="#000" stroke-width="0.06">23</text>
<line x1="657.5" y1="479.1" x2="657.5" y2="481.4" stroke="#989898" stroke-width="0.75"/>
<text x="657.5" y="487" text-anchor="middle" font-family="'Liberation Sans', sans-serif" font-weight="bold" font-size="6.6" textLength="6.24" lengthAdjust="spacingAndGlyphs" fill="#000" stroke="#000" stroke-width="0.06">26</text>
<polyline points="611.9,418.6 634.8,363.4 657.5,443.6" fill="none" stroke="#2273c9" stroke-width="0.75"/>
<circle cx="611.9" cy="418.6" r="1.7" fill="#0a4fa5"/>
<circle cx="634.8" cy="363.4" r="1.7" fill="#0a4fa5"/>
<circle cx="657.5" cy="443.6" r="1.7" fill="#0a4fa5"/>
<text transform="translate(373.7,401.25) rotate(-90)" text-anchor="middle" font-family="'Liberation Sans', sans-serif" font-weight="bold" font-size="8.2" textLength="63.4" lengthAdjust="spacingAndGlyphs" fill="#000" stroke="#000" stroke-width="0.35">Mean of SN ratios</text>
<text x="366.2" y="500.3" font-family="'Liberation Sans', sans-serif" font-style="italic" font-size="7" textLength="90" lengthAdjust="spacingAndGlyphs" fill="#111">Signal-to-noise: Larger is better</text>
</g>
<g class="panel">
<rect x="122.7" y="587.4" width="392.5" height="259.6" fill="#e5e5e5" stroke="#dbdbdb" stroke-width="1"/>
<rect x="158.6" y="628.7" width="338.3" height="187.5" fill="#fff" stroke="#989898" stroke-width="0.8"/>
<line x1="158.6" y1="637.5" x2="496.9" y2="637.5" stroke="#989898" stroke-width="0.8"/>
<line x1="243.17" y1="628.7" x2="243.17" y2="816.2" stroke="#989898" stroke-width="0.8"/>
<line x1="327.75" y1="628.7" x2="327.75" y2="816.2" stroke="#989898" stroke-width="0.8"/>
<line x1="412.32" y1="628.7" x2="412.32" y2="816.2" stroke="#989898" stroke-width="0.8"/>
<text x="318.95" y="608.6" text-anchor="middle" font-family="'Liberation Sans', sans-serif" font-weight="bold" font-size="11.16" textLength="141.6" lengthAdjust="spacingAndGlyphs" fill="#000" stroke="#000" stroke-width="0.36">Main Effects Plot for SN ratios</text>
<text x="318.95" y="619.1" text-anchor="middle" font-family="'Liberation Sans', sans-serif" font-size="9.48" textLength="49.68" lengthAdjust="spacingAndGlyphs" fill="#000" stroke="#000" stroke-width="0.12">Data Means</text>
<text x="200.89" y="635.06" text-anchor="middle" font-family="'Liberation Sans', sans-serif" font-weight="bold" font-size="7.68" textLength="37.44" lengthAdjust="spacingAndGlyphs" fill="#000">FLY ASH %</text>
<text x="285.46" y="635.06" text-anchor="middle" font-family="'Liberation Sans', sans-serif" font-weight="bold" font-size="7.68" textLength="36.6" lengthAdjust="spacingAndGlyphs" fill="#000">MICRO S%</text>
<text x="370.04" y="635.06" text-anchor="middle" font-family="'Liberation Sans', sans-serif" font-weight="bold" font-size="7.68" textLength="48.6" lengthAdjust="spacingAndGlyphs" fill="#000">ACTIVATOR %</text>
<text x="454.61" y="635.06" text-anchor="middle" font-family="'Liberation Sans', sans-serif" font-weight="bold" font-size="7.68" textLength="23.4" lengthAdjust="spacingAndGlyphs" fill="#000">W/B %</text>
<line x1="155.6" y1="640.2" x2="158.6" y2="640.2" stroke="#989898" stroke-width="0.8"/>
<text x="154.88" y="642.96" text-anchor="end" font-family="'Liberation Sans', sans-serif" font-weight="bold" font-size="7.92" textLength="7.49" lengthAdjust="spacingAndGlyphs" fill="#000" stroke="#000" stroke-width="0.02">36</text>
<line x1="155.6" y1="683.45" x2="158.6" y2="683.45" stroke="#989898" stroke-width="0.8"/>
<text x="154.88" y="686.21" text-anchor="end" font-family="'Liberation Sans', sans-serif" font-weight="bold" font-size="7.92" textLength="7.49" lengthAdjust="spacingAndGlyphs" fill="#000" stroke="#000" stroke-width="0.02">35</text>
<line x1="155.6" y1="726.7" x2="158.6" y2="726.7" stroke="#989898" stroke-width="0.8"/>
<text x="154.88" y="729.46" text-anchor="end" font-family="'Liberation Sans', sans-serif" font-weight="bold" font-size="7.92" textLength="7.49" lengthAdjust="spacingAndGlyphs" fill="#000" stroke="#000" stroke-width="0.02">34</text>
<line x1="155.6" y1="769.95" x2="158.6" y2="769.95" stroke="#989898" stroke-width="0.8"/>
<text x="154.88" y="772.71" text-anchor="end" font-family="'Liberation Sans', sans-serif" font-weight="bold" font-size="7.92" textLength="7.49" lengthAdjust="spacingAndGlyphs" fill="#000" stroke="#000" stroke-width="0.02">33</text>
<line x1="155.6" y1="813.2" x2="158.6" y2="813.2" stroke="#989898" stroke-width="0.8"/>
<text x="154.88" y="815.96" text-anchor="end" font-family="'Liberation Sans', sans-serif" font-weight="bold" font-size="7.92" textLength="7.49" lengthAdjust="spacingAndGlyphs" fill="#000" stroke="#000" stroke-width="0.02">32</text>
<line x1="158.6" y1="722.1" x2="496.9" y2="722.1" stroke="#c6c6c6" stroke-width="1.5" stroke-dasharray="2.8 1.33"/>
<line x1="172.7" y1="816.2" x2="172.7" y2="818.96" stroke="#989898" stroke-width="0.8"/>
<text x="172.7" y="825.2" text-anchor="middle" font-family="'Liberation Sans', sans-serif" font-weight="bold" font-size="7.92" textLength="9.23" lengthAdjust="spacingAndGlyphs" fill="#000" stroke="#000" stroke-width="0.02">0.0</text>
<line x1="200.7" y1="816.2" x2="200.7" y2="818.96" stroke="#989898" stroke-width="0.8"/>
<text x="200.7" y="825.2" text-anchor="middle" font-family="'Liberation Sans', sans-serif" font-weight="bold" font-size="7.92" textLength="12.97" lengthAdjust="spacingAndGlyphs" fill="#000" stroke="#000" stroke-width="0.02">12.5</text>
<line x1="228.6" y1="816.2" x2="228.6" y2="818.96" stroke="#989898" stroke-width="0.8"/>
<text x="228.6" y="825.2" text-anchor="middle" font-family="'Liberation Sans', sans-serif" font-weight="bold" font-size="7.92" textLength="12.97" lengthAdjust="spacingAndGlyphs" fill="#000" stroke="#000" stroke-width="0.02">25.0</text>
<polyline points="172.7,770.8 200.7,676.2 228.6,719.9" fill="none" stroke="#2273c9" stroke-width="0.8"/>
<circle cx="172.7" cy="770.8" r="2.04" fill="#0a4fa5"/>
<circle cx="200.7" cy="676.2" r="2.04" fill="#0a4fa5"/>
<circle cx="228.6" cy="719.9" r="2.04" fill="#0a4fa5"/>
<line x1="257.6" y1="816.2" x2="257.6" y2="818.96" stroke="#989898" stroke-width="0.8"/>
<text x="257.6" y="825.2" text-anchor="middle" font-family="'Liberation Sans', sans-serif" font-weight="bold" font-size="7.92" textLength="9.23" lengthAdjust="spacingAndGlyphs" fill="#000" stroke="#000" stroke-width="0.02">0.0</text>
<line x1="285.6" y1="816.2" x2="285.6" y2="818.96" stroke="#989898" stroke-width="0.8"/>
<text x="285.6" y="825.2" text-anchor="middle" font-family="'Liberation Sans', sans-serif" font-weight="bold" font-size="7.92" textLength="12.97" lengthAdjust="spacingAndGlyphs" fill="#000" stroke="#000" stroke-width="0.02">12.5</text>
<line x1="313.4" y1="816.2" x2="313.4" y2="818.96" stroke="#989898" stroke-width="0.8"/>
<text x="313.4" y="825.2" text-anchor="middle" font-family="'Liberation Sans', sans-serif" font-weight="bold" font-size="7.92" textLength="12.97" lengthAdjust="spacingAndGlyphs" fill="#000" stroke="#000" stroke-width="0.02">25.0</text>
<polyline points="257.6,757 285.6,743.1 313.4,666.2" fill="none" stroke="#2273c9" stroke-width="0.8"/>
<circle cx="257.6" cy="757" r="2.04" fill="#0a4fa5"/>
<circle cx="285.6" cy="743.1" r="2.04" fill="#0a4fa5"/>
<circle cx="313.4" cy="666.2" r="2.04" fill="#0a4fa5"/>
<line x1="342.4" y1="816.2" x2="342.4" y2="818.96" stroke="#989898" stroke-width="0.8"/>
<text x="342.4" y="825.2" text-anchor="middle" font-family="'Liberation Sans', sans-serif" font-weight="bold" font-size="7.92" textLength="7.49" lengthAdjust="spacingAndGlyphs" fill="#000" stroke="#000" stroke-width="0.02">10</text>
<line x1="370.4" y1="816.2" x2="370.4" y2="818.96" stroke="#989898" stroke-width="0.8"/>
<text x="370.4" y="825.2" text-anchor="middle" font-family="'Liberation Sans', sans-serif" font-weight="bold" font-size="7.92" textLength="7.49" lengthAdjust="spacingAndGlyphs" fill="#000" stroke="#000" stroke-width="0.02">12</text>
<line x1="398.3" y1="816.2" x2="398.3" y2="818.96" stroke="#989898" stroke-width="0.8"/>
<text x="398.3" y="825.2" text-anchor="middle" font-family="'Liberation Sans', sans-serif" font-weight="bold" font-size="7.92" textLength="7.49" lengthAdjust="spacingAndGlyphs" fill="#000" stroke="#000" stroke-width="0.02">14</text>
<polyline points="342.4,806.7 370.4,712.6 398.3,647.2" fill="none" stroke="#2273c9" stroke-width="0.8"/>
<circle cx="342.4" cy="806.7" r="2.04" fill="#0a4fa5"/>
<circle cx="370.4" cy="712.6" r="2.04" fill="#0a4fa5"/>
<circle cx="398.3" cy="647.2" r="2.04" fill="#0a4fa5"/>
<line x1="426.7" y1="816.2" x2="426.7" y2="818.96" stroke="#989898" stroke-width="0.8"/>
<text x="426.7" y="825.2" text-anchor="middle" font-family="'Liberation Sans', sans-serif" font-weight="bold" font-size="7.92" textLength="7.49" lengthAdjust="spacingAndGlyphs" fill="#000" stroke="#000" stroke-width="0.02">20</text>
<line x1="454.6" y1="816.2" x2="454.6" y2="818.96" stroke="#989898" stroke-width="0.8"/>
<text x="454.6" y="825.2" text-anchor="middle" font-family="'Liberation Sans', sans-serif" font-weight="bold" font-size="7.92" textLength="7.49" lengthAdjust="spacingAndGlyphs" fill="#000" stroke="#000" stroke-width="0.02">23</text>
<line x1="482.6" y1="816.2" x2="482.6" y2="818.96" stroke="#989898" stroke-width="0.8"/>
<text x="482.6" y="825.2" text-anchor="middle" font-family="'Liberation Sans', sans-serif" font-weight="bold" font-size="7.92" textLength="7.49" lengthAdjust="spacingAndGlyphs" fill="#000" stroke="#000" stroke-width="0.02">26</text>
<polyline points="426.7,727.3 454.6,672.4 482.6,767.3" fill="none" stroke="#2273c9" stroke-width="0.8"/>
<circle cx="426.7" cy="727.3" r="2.04" fill="#0a4fa5"/>
<circle cx="454.6" cy="672.4" r="2.04" fill="#0a4fa5"/>
<circle cx="482.6" cy="767.3" r="2.04" fill="#0a4fa5"/>
<text transform="translate(141.3,722.45) rotate(-90)" text-anchor="middle" font-family="'Liberation Sans', sans-serif" font-weight="bold" font-size="9.84" textLength="76.08" lengthAdjust="spacingAndGlyphs" fill="#000" stroke="#000" stroke-width="0.42">Mean of SN ratios</text>
<text x="131.3" y="840.56" font-family="'Liberation Sans', sans-serif" font-style="italic" font-size="8.4" textLength="108" lengthAdjust="spacingAndGlyphs" fill="#111">Signal-to-noise: Larger is better</text>
</g>
<text x="164.5" y="260.8" text-anchor="middle" font-family="'Liberation Serif', serif" font-size="20.2" fill="#000" stroke="#000" stroke-width="0.2">(a) S-N ratios of Flowability test</text>
<text x="521.5" y="260.7" text-anchor="middle" font-family="'Liberation Serif', serif" font-size="20.2" fill="#000" stroke="#000" stroke-width="0.2">(b) S-N ratios of IST</text>
<text x="164" y="553" text-anchor="middle" font-family="'Liberation Serif', serif" font-size="20.2" fill="#000" stroke="#000" stroke-width="0.2">(c) S-N ratios of FST</text>
<text x="521.9" y="536.7" text-anchor="middle" font-family="'Liberation Serif', serif" font-size="20.2" fill="#000" stroke="#000" stroke-width="0.2">(d) S-N ratios of 7 days compressive</text>
<text x="521.9" y="570.4" text-anchor="middle" font-family="'Liberation Serif', serif" font-size="20.2" fill="#000" stroke="#000" stroke-width="0.2">strength</text>
<text x="318.9" y="890.9" text-anchor="middle" font-family="'Liberation Serif', serif" font-size="20.2" fill="#000" stroke="#000" stroke-width="0.2">(e) S-N ratios of 28 days compressive strength</text>
</svg>
</body>
</html>
